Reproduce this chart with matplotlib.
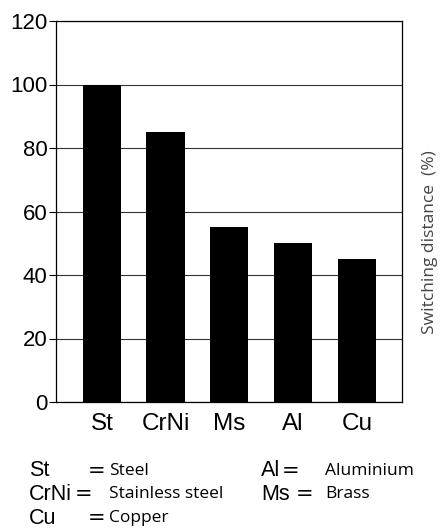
import numpy as np
import matplotlib.pyplot as plt

# data
materials = ["St", "CrNi", "Ms", "Al", "Cu"]
distance = [100, 85, 55, 50, 45]
yticks = [0, 20, 40, 60, 80, 100, 120]
legend_left = [("St", "Steel"), ("CrNi", "Stainless steel"), ("Cu", "Copper")]
legend_right = [("Al", "Aluminium"), ("Ms", "Brass")]

W, H = 443, 531
fig = plt.figure(figsize=(W / 100, H / 100), dpi=100)
ax = fig.add_axes([56 / W, 1 - 402 / H, 346 / W, 381 / H])

x = np.arange(len(materials))
ax.bar(x, distance, width=0.6, color="black", zorder=3)
ax.set_xlim(-0.72, 4.71)
ax.set_ylim(0, 120)
ax.set_yticks(yticks)
ax.yaxis.grid(True, color="#333333", linewidth=0.8, zorder=0)
ax.set_xticks(x)
ax.set_xticklabels(materials, family="Liberation Sans", fontsize=17.5)
for lab in ax.get_yticklabels():
    lab.set_family("Liberation Sans")
    lab.set_fontsize(16)
ax.tick_params(axis="x", length=0, pad=8)
ax.tick_params(axis="y", length=5, width=0.8, pad=1)
for s in ax.spines.values():
    s.set_linewidth(0.9)

fig.text(430 / W, 1 - 242 / H, "Switching distance  (%)", family="Open Sans",
         fontsize=12.5, color="#444444", rotation=90, ha="center", va="center")

# abbreviation key below the chart
def key(xa, xe, xd, y, abbr, desc):
    fig.text(xa / W, 1 - y / H, abbr, family="Liberation Sans", fontsize=15.5, va="center")
    fig.text(xe / W, 1 - y / H, "=", family="DejaVu Sans", fontsize=15, va="center")
    fig.text(xd / W, 1 - y / H, desc, family="Open Sans", fontsize=12.5, va="center")

eq_left = [88, 75, 88]
eq_right = [282, 296]
for i, (a, d) in enumerate(legend_left):
    key(29, eq_left[i], 109, 471 + i * 23.5, a, d)
for i, (a, d) in enumerate(legend_right):
    key(261, eq_right[i], 325, 471 + i * 23.5, a, d)

fig.savefig("out.png", dpi=100)
